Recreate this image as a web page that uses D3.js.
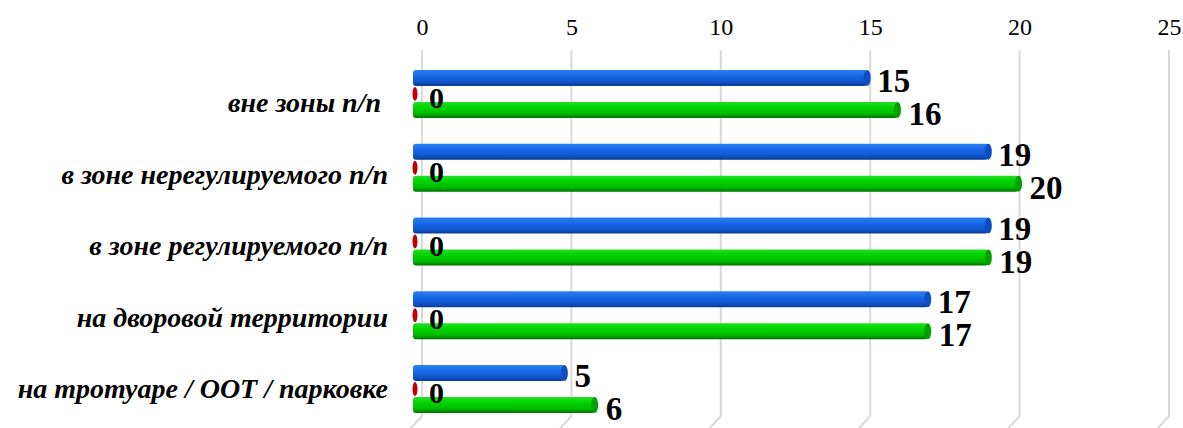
<!DOCTYPE html>
<html>
<head>
<meta charset="utf-8">
<script src="https://cdn.jsdelivr.net/npm/d3@7"></script>
<style>
  body { margin: 0; background: #fff; }
  text { font-family: "Liberation Serif", "Times New Roman", serif; }
</style>
</head>
<body>
<svg id="chart" width="1183" height="428"></svg>
<script>
var categories = ["вне зоны п/п ", "в зоне нерегулируемого п/п", "в зоне регулируемого п/п", "на дворовой территории", "на тротуаре / ООТ / парковке"];
var seriesNames = ["blue", "red", "green"];
var blueValues = [15, 19, 19, 17, 5];
var redValues = [0, 0, 0, 0, 0];
var greenValues = [16, 20, 19, 17, 6];
var ticks = [0, 5, 10, 15, 20, 25];

var svg = d3.select("#chart");
var defs = svg.append("defs");

function gradient(id, stops) {
    var g = defs.append("linearGradient").attr("id", id)
        .attr("x1", 0).attr("y1", 0).attr("x2", 0).attr("y2", 1);
    stops.forEach(function(s) {
        g.append("stop").attr("offset", s[0]).attr("stop-color", s[1]);
    });
}
gradient("gBlue", [[0, "#2a7ff0"], [0.35, "#1a6ae8"], [0.75, "#0f55cc"], [1, "#0a3a95"]]);
gradient("gGreen", [[0, "#22e022"], [0.35, "#00d400"], [0.75, "#00b800"], [1, "#006f00"]]);

// back wall scale (grid) and front face scale (bars)
var xGrid = d3.scaleLinear().domain([0, 25]).range([422, 1169]);
var xBar = d3.scaleLinear().domain([0, 25]).range([413, 1170]);
var y = d3.scaleBand().domain(categories).range([57, 426]);
// category labels sit on a slightly tighter spacing than the bars
var yLabel = d3.scalePoint().domain(categories).range([112, 398]);
var barH = 16;

// grid lines
var grid = svg.append("g");
ticks.forEach(function(t) {
    grid.append("path")
        .attr("d", "M" + xGrid(t) + ",50 L" + xGrid(t) + ",416 L" + (xGrid(t) - 11) + ",428")
        .attr("fill", "none").attr("stroke", "#d9d9d9").attr("stroke-width", 2);
});

// top axis labels
var axis = d3.axisTop(xGrid).tickValues(ticks).tickSize(0).tickPadding(0);
var ax = svg.append("g").attr("transform", "translate(0,35)").call(axis);
ax.select(".domain").remove();
ax.selectAll("text").attr("font-size", 24).attr("fill", "#000")
    .style("font-family", "'Liberation Serif', serif");

// category labels
svg.append("g").selectAll("text").data(categories).enter().append("text")
    .attr("x", 388).attr("y", function(d) { return yLabel(d); })
    .attr("text-anchor", "end").attr("font-size", 28)
    .attr("font-style", "italic").attr("font-weight", "bold")
    .attr("xml:space", "preserve")
    .text(function(d) { return d; });

function cylinder(g, cy, v, fill, cap) {
    var x0 = xBar(0), x1 = xBar(v);
    g.append("rect").attr("x", x0).attr("y", cy).attr("width", x1 - x0).attr("height", barH)
        .attr("rx", 3).attr("fill", fill);
    g.append("ellipse").attr("cx", x1).attr("cy", cy + barH / 2).attr("rx", 3.5).attr("ry", barH / 2)
        .attr("fill", cap);
}

var bars = svg.append("g");
categories.forEach(function(c, i) {
    var cy = y(c) + y.bandwidth() / 2;
    // blue
    cylinder(bars, cy - 24, blueValues[i], "url(#gBlue)", "#0d4fbf");
    // red (zero) - only the thin cap ellipse
    bars.append("ellipse").attr("cx", xBar(redValues[i]) + 2).attr("cy", cy).attr("rx", 2.5).attr("ry", 7)
        .attr("fill", "#c00000");
    // green
    cylinder(bars, cy + 8, greenValues[i], "url(#gGreen)", "#00a000");

    bars.append("text").attr("x", xBar(blueValues[i]) + 10).attr("y", cy - 2)
        .attr("font-size", 33).attr("font-weight", "bold").text(blueValues[i]);
    bars.append("text").attr("x", xBar(redValues[i]) + 16).attr("y", cy + 14)
        .attr("font-size", 30).attr("font-weight", "bold").text(redValues[i]);
    bars.append("text").attr("x", xBar(greenValues[i]) + 11).attr("y", cy + 31)
        .attr("font-size", 33).attr("font-weight", "bold").text(greenValues[i]);
});
</script>
</body>
</html>
